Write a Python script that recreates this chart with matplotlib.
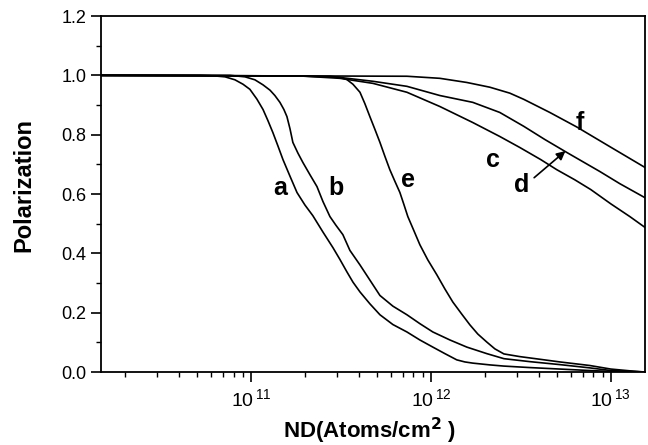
import matplotlib
matplotlib.use("Agg")
import matplotlib.pyplot as plt
import numpy as np
from matplotlib.ticker import FixedLocator, NullFormatter, LogLocator

plt.rcParams['font.family'] = ['Liberation Sans', 'DejaVu Sans']
plt.rcParams['mathtext.default'] = 'regular'

# curves: log10(ND / atoms cm^-2) and polarization
a_lx = [10.167, 10.717, 10.8, 10.856, 10.911, 10.956, 10.994, 11.033, 11.067, 11.094,
        11.122, 11.15, 11.178, 11.217, 11.256, 11.3, 11.344, 11.4, 11.456, 11.494,
        11.533, 11.567, 11.606, 11.661, 11.717, 11.789, 11.867, 11.939, 12.011, 12.078,
        12.144, 12.189, 12.233, 12.328, 12.406, 12.55, 12.717, 12.883, 13.0, 13.189]
a_y = [1.0, 1.0, 0.998, 0.995, 0.985, 0.97, 0.953, 0.92, 0.885, 0.848,
       0.807, 0.762, 0.716, 0.66, 0.605, 0.563, 0.527, 0.472, 0.419, 0.38,
       0.338, 0.303, 0.27, 0.23, 0.193, 0.16, 0.135, 0.108, 0.084, 0.062,
       0.041, 0.034, 0.03, 0.024, 0.02, 0.015, 0.01, 0.005, 0.002, 0.0]

b_lx = [10.167, 10.883, 10.967, 11.022, 11.067, 11.106, 11.133, 11.161, 11.183, 11.2,
        11.217, 11.233, 11.261, 11.289, 11.328, 11.367, 11.4, 11.439, 11.472, 11.511,
        11.55, 11.606, 11.661, 11.717, 11.789, 11.867, 11.939, 12.011, 12.106, 12.2,
        12.311, 12.406, 12.55, 12.717, 12.883, 13.0, 13.189]
b_y = [1.0, 1.0, 0.995, 0.985, 0.968, 0.95, 0.932, 0.909, 0.885, 0.861,
       0.82, 0.774, 0.738, 0.706, 0.665, 0.625, 0.575, 0.524, 0.495, 0.463,
       0.41, 0.361, 0.31, 0.258, 0.222, 0.193, 0.163, 0.135, 0.108, 0.084,
       0.062, 0.045, 0.035, 0.025, 0.014, 0.005, 0.0]

e_lx = [10.167, 11.439, 11.494, 11.533, 11.567, 11.606, 11.633, 11.661, 11.689, 11.717,
        11.744, 11.772, 11.8, 11.828, 11.85, 11.872, 11.906, 11.939, 11.983, 12.033,
        12.078, 12.122, 12.172, 12.217, 12.261, 12.311, 12.356, 12.406, 12.494, 12.606,
        12.717, 12.883, 13.0, 13.106, 13.189]
e_y = [1.0, 0.997, 0.993, 0.986, 0.97, 0.943, 0.905, 0.861, 0.818, 0.774,
       0.728, 0.682, 0.643, 0.605, 0.565, 0.524, 0.476, 0.429, 0.378, 0.328,
       0.28, 0.236, 0.195, 0.159, 0.128, 0.101, 0.078, 0.061, 0.052, 0.043,
       0.034, 0.022, 0.01, 0.004, 0.0]

c_lx = [10.167, 11.272, 11.494, 11.678, 11.867, 12.05, 12.233, 12.383, 12.494, 12.611,
        12.7, 12.8, 12.889, 13.0, 13.106, 13.189]
c_y = [1.0, 0.998, 0.99, 0.973, 0.943, 0.895, 0.841, 0.794, 0.757, 0.716,
       0.682, 0.648, 0.615, 0.567, 0.524, 0.488]

d_lx = [10.167, 11.272, 11.494, 11.678, 11.867, 12.05, 12.233, 12.383, 12.517, 12.633,
        12.756, 12.939, 13.05, 13.189]
d_y = [1.0, 0.998, 0.993, 0.98, 0.963, 0.932, 0.909, 0.875, 0.828, 0.784,
       0.74, 0.676, 0.635, 0.588]

f_lx = [10.167, 11.867, 12.05, 12.2, 12.328, 12.439, 12.517, 12.661, 12.811, 12.994,
        13.189]
f_y = [1.0, 0.997, 0.99, 0.976, 0.96, 0.94, 0.919, 0.875, 0.826, 0.76,
       0.69]

labels = ['a', 'b', 'e', 'c', 'd', 'f']
label_x = [1.45e11, 2.95e11, 7.5e11, 2.2e12, 3.2e12, 6.7e12]
label_y = [0.62, 0.62, 0.647, 0.716, 0.632, 0.841]

fig = plt.figure(figsize=(6.48, 4.45), dpi=100)
ax = fig.add_axes([0.156, 0.164, 0.839, 0.80])

for lx, ys in [(a_lx, a_y), (b_lx, b_y), (e_lx, e_y), (c_lx, c_y), (d_lx, d_y), (f_lx, f_y)]:
    ax.plot(10 ** np.array(lx), ys, color='black', lw=1.2)

for t, x, y in zip(labels, label_x, label_y):
    ax.text(x, y, t, fontsize=18, fontweight='bold', ha='center', va='center')

ax.annotate('', xy=(5.6e12, 0.745), xytext=(3.75e12, 0.655),
            arrowprops=dict(arrowstyle='-|>', color='black', lw=1.2,
                            mutation_scale=13, shrinkA=0, shrinkB=0))

ax.set_xscale('log')
ax.set_xlim(10 ** 10.167, 10 ** 13.189)
ax.set_ylim(0, 1.2)
ax.set_xticks([1e11, 1e12, 1e13])
ax.set_xticklabels([r'$10^{\,11}$', r'$10^{\,12}$', r'$10^{\,13}$'])
ax.xaxis.set_minor_locator(LogLocator(base=10, subs=range(2, 10), numticks=20))
ax.xaxis.set_minor_formatter(NullFormatter())
ax.set_yticks([0.0, 0.2, 0.4, 0.6, 0.8, 1.0, 1.2])
ax.set_yticklabels(['0.0', '0.2', '0.4', '0.6', '0.8', '1.0', '1.2'])
ax.yaxis.set_minor_locator(FixedLocator([0.1, 0.3, 0.5, 0.7, 0.9, 1.1]))

ax.tick_params(which='major', direction='out', length=7, width=1.2, labelsize=13,
               top=False, right=False)
ax.tick_params(axis='x', which='major', labelsize=14, pad=5)
ax.tick_params(which='minor', direction='out', length=3.5, width=1.0,
               top=False, right=False)
for s in ax.spines.values():
    s.set_linewidth(1.3)

ax.set_xlabel(r'ND(Atoms/cm$^{\bf 2}$ )', fontsize=16, fontweight='bold')
ax.set_ylabel('Polarization', fontsize=17, fontweight='bold')
ax.xaxis.set_label_coords(0.493, -0.122)
ax.yaxis.set_label_coords(-0.121, 0.525)

fig.savefig('out.png', dpi=100)
